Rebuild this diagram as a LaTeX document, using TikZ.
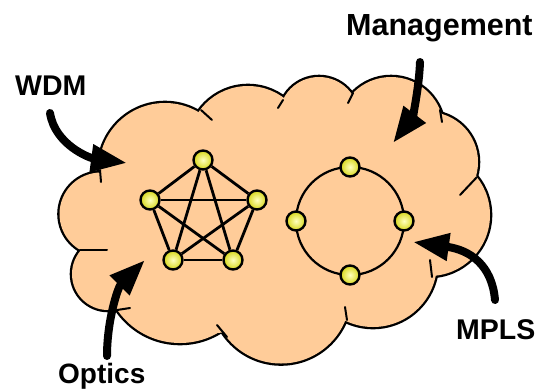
\documentclass[tikz,border=0pt]{standalone}
\usepackage{fontspec}
\setmainfont{Liberation Sans}
\usetikzlibrary{arrows.meta}
\definecolor{cloudfill}{RGB}{255,204,153}
\definecolor{nodein}{RGB}{255,255,190}
\definecolor{nodeout}{RGB}{215,215,25}
\begin{document}
\begin{tikzpicture}[x=1pt,y=-1pt,
  vtx/.style={circle,draw=black,line width=2.4pt,minimum size=19pt,inner sep=0pt,inner color=nodein,outer color=nodeout},
  edge/.style={line width=2.8pt},
  bigarrow/.style={line width=8pt,line cap=round,-{Triangle[length=36pt,width=26pt]}},
  lbl/.style={inner sep=0pt,anchor=base west},
  tick/.style={line width=2pt,line cap=round}]
\useasboundingbox (0,0) rectangle (537,391);
\fill[white] (0,0) rectangle (537,391);
% cloud
\def\lobes{165/169/66, 248/146/60, 319/117/40, 391/130/53, 428/162/50, 429/215/61, 373/263/64, 281/294/69.5, 180/267/76, 108/274/36, 101/214/41.5}
\foreach \cx/\cy/\rr in \lobes {\filldraw[fill=cloudfill,draw=black,line width=4.6pt] (\cx,\cy) circle[radius=\rr pt];}
\foreach \cx/\cy/\rr in \lobes {\fill[cloudfill] (\cx,\cy) circle[radius=\rr pt];}
\fill[cloudfill] (100,172) -- (203,110) -- (282,100) -- (351,95) -- (441,115) -- (477,177) -- (432,278) -- (347,318) -- (218,333) -- (118,310) -- (82,250) -- cycle;
% cusp ticks
\draw[tick] (100,170) -- (101,182);
\draw[tick] (201,110) -- (212,120);
\draw[tick] (283,100) -- (278,108);
\draw[tick] (353,93) -- (348,103);
\draw[tick] (440,110) -- (442,122);
\draw[tick] (477,177) -- (460,195);
\draw[tick] (430,260) -- (432,277);
\draw[tick] (345,307) -- (347,320);
\draw[tick] (217,325) -- (227,337);
\draw[tick] (117,310) -- (130,308);
\draw[tick] (80,250) -- (107,250);
% mesh
\node[vtx] (t) at (203,160) {};
\node[vtx] (l) at (150,200) {};
\node[vtx] (r) at (257,200) {};
\node[vtx] (bl) at (173,260) {};
\node[vtx] (br) at (233,260) {};
\foreach \a/\b in {t/l,t/r,t/bl,t/br,l/r,l/bl,l/br,r/bl,r/br,bl/br} \draw[edge] (\a) -- (\b);
% ring
\coordinate (rc) at (350,221);
\draw[line width=2.2pt] (rc) circle[radius=54pt];
\node[vtx] (rt) at (350,167) {};
\node[vtx] (rl) at (296,221) {};
\node[vtx] (rr) at (404,221) {};
\node[vtx] (rb) at (350,275) {};
% labels
\node[lbl,font=\fontsize{28.5}{34}\selectfont\bfseries] (wdm) at (15,95) {WDM};
\node[lbl,font=\fontsize{30.5}{36}\selectfont\bfseries] (mgmt) at (346,35) {Management};
\node[lbl,font=\fontsize{28.5}{34}\selectfont\bfseries] (mpls) at (456,339) {MPLS};
\node[lbl,font=\fontsize{28}{34}\selectfont\bfseries] (optics) at (58,383) {Optics};
% arrows
\coordinate (wdmtail) at (50,113);
\coordinate (wdmtip) at (127,163);
\draw[bigarrow] (wdmtail) .. controls (55,145) and (90,158) .. (wdmtip);
\coordinate (opttail) at (107,356);
\coordinate (opttip) at (145,260);
\draw[bigarrow] (opttail) .. controls (107,320) and (118,287) .. (opttip);
\coordinate (mgtail) at (420,62);
\coordinate (mgtip) at (393,143);
\draw[bigarrow] (mgtail) .. controls (419,90) and (412,118) .. (mgtip);
\coordinate (mptail) at (495,300);
\coordinate (mptip) at (413,242);
\draw[bigarrow] (mptail) .. controls (492,265) and (470,250) .. (mptip);
\end{tikzpicture}
\end{document}
